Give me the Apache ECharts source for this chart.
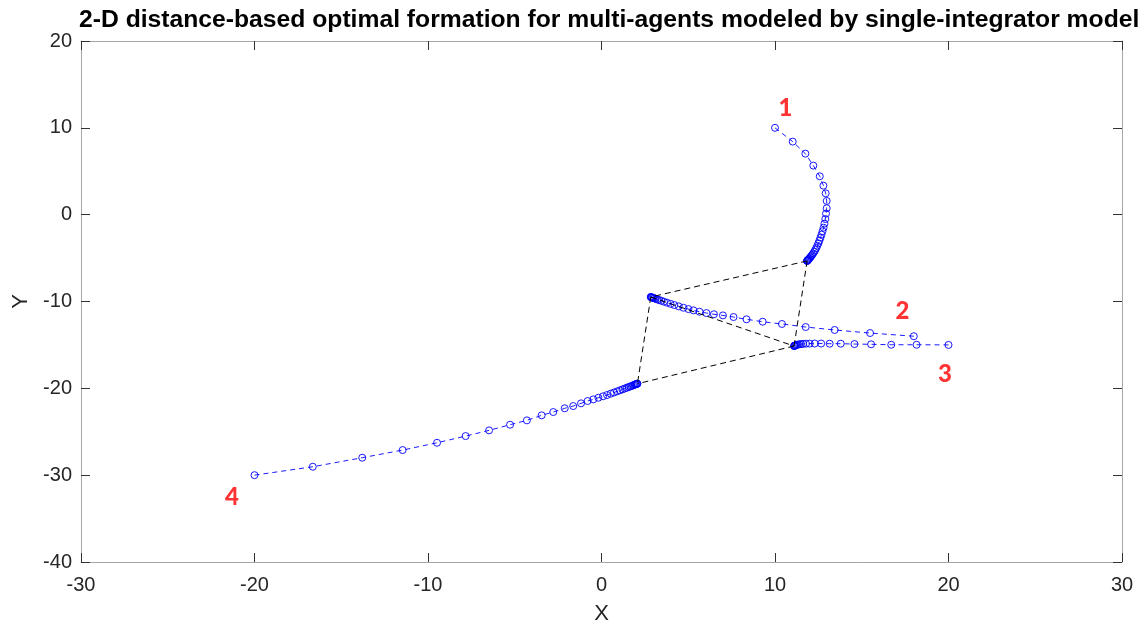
<!DOCTYPE html>
<html>
<head>
<meta charset="utf-8">
<script src="https://cdn.jsdelivr.net/npm/echarts@6/dist/echarts.min.js"></script>
<style>
  html, body { margin: 0; padding: 0; background: #ffffff; }
  #chart { width: 1142px; height: 628px; }
</style>
</head>
<body>
<div id="chart"></div>
<script>
// Agent trajectories (x, y) from initial position to converged position
const agent1 = [
  [10.00, 10.00], [11.02, 8.41], [11.75, 7.03], [12.21, 5.65], [12.58, 4.42],
  [12.79, 3.34], [12.92, 2.46], [12.98, 1.58], [12.98, 0.74], [12.94, 0.12],
  [12.90, -0.50], [12.85, -1.04], [12.80, -1.50], [12.74, -1.90], [12.68, -2.30],
  [12.62, -2.65], [12.56, -3.00], [12.50, -3.30], [12.44, -3.58], [12.38, -3.84],
  [12.32, -4.07], [12.26, -4.28], [12.20, -4.47], [12.14, -4.63], [12.09, -4.77],
  [12.04, -4.90], [12.00, -5.00], [11.96, -5.09], [11.93, -5.16], [11.90, -5.22],
  [11.88, -5.27], [11.86, -5.30], [11.85, -5.32], [11.85, -5.33]
];
const agent2 = [
  [18.00, -14.00], [15.48, -13.63], [13.44, -13.28], [11.77, -12.94], [10.40, -12.59],
  [9.29, -12.33], [8.36, -12.05], [7.61, -11.79], [7.00, -11.60], [6.48, -11.47],
  [6.05, -11.33], [5.65, -11.18], [5.30, -11.02], [5.01, -10.87], [4.72, -10.72],
  [4.45, -10.56], [4.20, -10.41], [3.98, -10.27], [3.78, -10.14], [3.60, -10.02],
  [3.45, -9.92], [3.32, -9.83], [3.21, -9.76], [3.12, -9.69], [3.05, -9.63],
  [2.99, -9.59], [2.94, -9.56], [2.90, -9.53], [2.87, -9.51], [2.85, -9.49], [2.84, -9.48]
];
const agent3 = [
  [20.00, -15.00], [18.16, -14.98], [16.70, -14.98], [15.54, -14.93], [14.58, -14.90],
  [13.79, -14.86], [13.15, -14.86], [12.66, -14.84], [12.29, -14.84], [12.00, -14.85],
  [11.79, -14.86], [11.62, -14.88], [11.50, -14.90], [11.40, -14.93], [11.32, -14.96],
  [11.26, -14.99], [11.21, -15.02], [11.17, -15.05], [11.14, -15.08], [11.12, -15.10],
  [11.11, -15.12], [11.10, -15.13]
];
const agent4 = [
  [-20.00, -30.00], [-16.64, -29.03], [-13.79, -27.99], [-11.46, -27.11], [-9.48, -26.27],
  [-7.83, -25.50], [-6.48, -24.84], [-5.27, -24.19], [-4.30, -23.69], [-3.45, -23.11],
  [-2.78, -22.73], [-2.12, -22.30], [-1.63, -22.04], [-1.18, -21.73], [-0.80, -21.46],
  [-0.47, -21.27], [-0.18, -21.08], [0.09, -20.92], [0.32, -20.77], [0.53, -20.62],
  [0.72, -20.48], [0.90, -20.35], [1.06, -20.23], [1.21, -20.12], [1.34, -20.02],
  [1.46, -19.93], [1.57, -19.85], [1.66, -19.78], [1.75, -19.72], [1.82, -19.66],
  [1.88, -19.61], [1.93, -19.57], [1.97, -19.53], [2.01, -19.50], [2.04, -19.48],
  [2.06, -19.47], [2.07, -19.47]
];

// Sensing graph: pairs of agent indices linked in the final formation
const edges = [[0, 1], [0, 2], [1, 2], [1, 3], [2, 3]];

// Agent number annotations: [x, y, text]
const agentTags = [
  [10.6, 12.2, '1'],
  [17.35, -11.1, '2'],
  [19.8, -18.35, '3'],
  [-21.3, -32.5, '4']
];

const xTicks = { min: -30, max: 30, interval: 10 };
const yTicks = { min: -40, max: 20, interval: 10 };

const trajectories = [agent1, agent2, agent3, agent4];
const finals = trajectories.map(t => t[t.length - 1]);

const blue = '#0000ff';
const textColor = '#262626';
const frameColor = '#a6a6a6';

const series = [];

trajectories.forEach((traj, i) => {
  series.push({
    name: 'agent' + (i + 1),
    type: 'line',
    data: traj,
    symbol: 'circle',
    symbolSize: 7,
    showSymbol: true,
    showAllSymbol: true,
    itemStyle: { color: 'rgba(0,0,0,0)', borderColor: blue, borderWidth: 0.9 },
    lineStyle: { color: blue, width: 0.9, type: [5, 4] },
    emphasis: { disabled: true },
    z: 2
  });
});

edges.forEach(([a, b]) => {
  series.push({
    type: 'line',
    data: [finals[a], finals[b]],
    symbol: 'none',
    lineStyle: { color: '#000000', width: 1, type: [6, 4] },
    emphasis: { disabled: true },
    z: 3
  });
});

series.push({
  type: 'scatter',
  data: agentTags.map(t => ({ value: [t[0], t[1]], name: t[2] })),
  symbolSize: 0,
  label: {
    show: true,
    position: 'inside',
    formatter: p => p.name,
    color: '#ff0000',
    fontFamily: 'Lato',
    fontWeight: 900,
    fontSize: 24
  },
  emphasis: { disabled: true },
  z: 4
});

const chart = echarts.init(document.getElementById('chart'), null, { renderer: 'canvas' });

const baseX = {
  type: 'value',
  min: xTicks.min, max: xTicks.max, interval: xTicks.interval,
  splitLine: { show: false },
  axisLine: { show: true, onZero: false, lineStyle: { color: frameColor, width: 1 } },
  axisTick: { show: true, inside: true, length: 9, lineStyle: { color: '#333333' } }
};
const baseY = {
  type: 'value',
  min: yTicks.min, max: yTicks.max, interval: yTicks.interval,
  splitLine: { show: false },
  axisLine: { show: true, onZero: false, lineStyle: { color: frameColor, width: 1 } },
  axisTick: { show: true, inside: true, length: 9, lineStyle: { color: '#333333' } }
};

chart.setOption({
  animation: false,
  backgroundColor: '#ffffff',
  title: {
    text: '2-D distance-based optimal formation for multi-agents modeled by single-integrator model',
    left: 74,
    top: 3,
    textStyle: {
      fontFamily: 'Liberation Sans',
      fontWeight: 'bold',
      fontSize: 24.7,
      color: '#000000'
    }
  },
  grid: { left: 81, right: 20, top: 41, bottom: 66, containLabel: false, outerBoundsMode: 'none' },
  xAxis: [
    Object.assign({}, baseX, {
      position: 'bottom',
      name: 'X',
      nameLocation: 'middle',
      nameGap: 41,
      nameTextStyle: { fontFamily: 'Liberation Sans', fontSize: 22, color: textColor },
      axisLabel: { show: true, margin: 13, fontFamily: 'Liberation Sans', fontSize: 20, color: textColor }
    }),
    Object.assign({}, baseX, { position: 'top', axisLabel: { show: false } })
  ],
  yAxis: [
    Object.assign({}, baseY, {
      position: 'left',
      name: 'Y',
      nameLocation: 'middle',
      nameGap: 40,
      nameRotate: 90,
      nameTextStyle: { fontFamily: 'Liberation Sans', fontSize: 22, color: textColor },
      axisLabel: { show: true, margin: 9, fontFamily: 'Liberation Sans', fontSize: 20, color: textColor }
    }),
    Object.assign({}, baseY, { position: 'right', axisLabel: { show: false } })
  ],
  series: series
});
</script>
</body>
</html>
